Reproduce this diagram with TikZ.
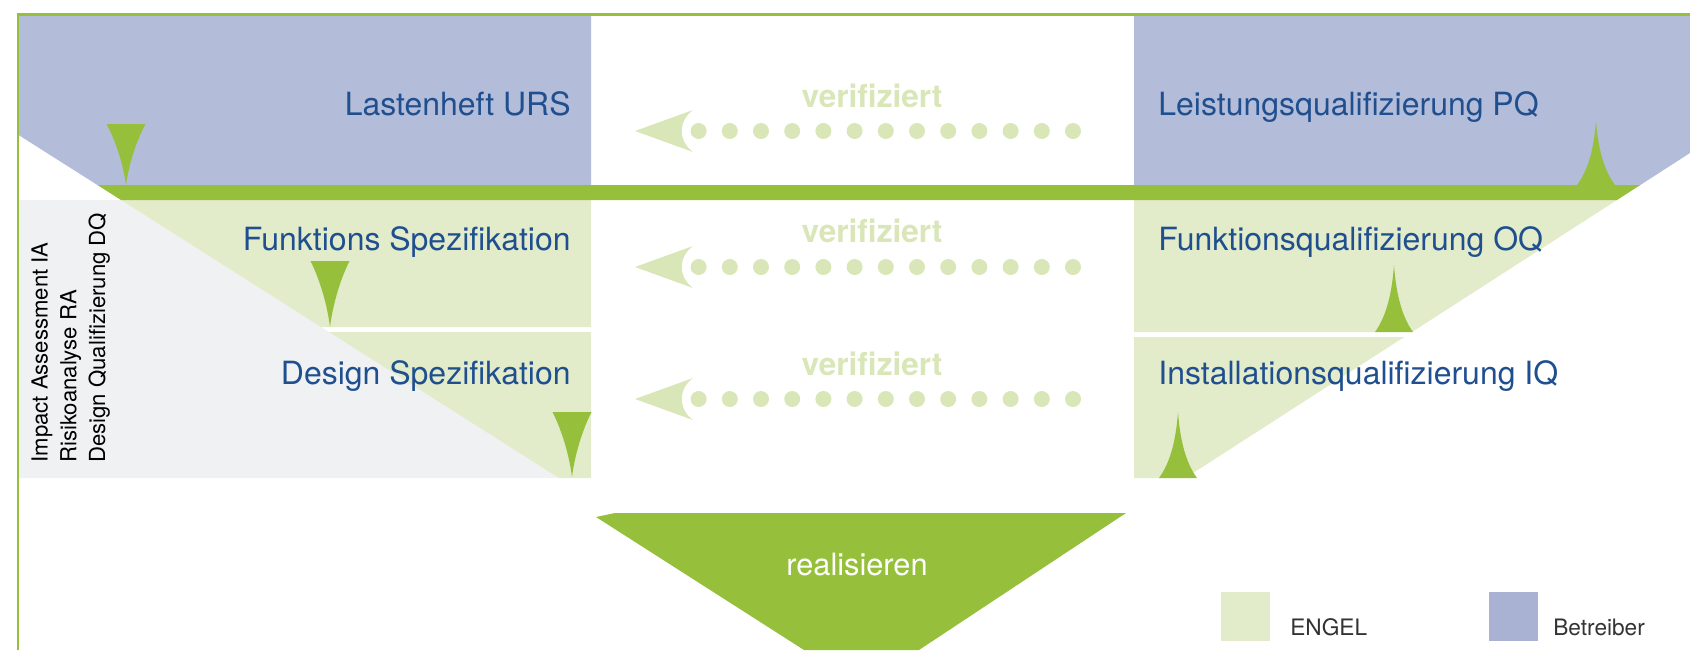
\documentclass[tikz,border=0pt]{standalone}
\usepackage{fontspec}
\setmainfont{TeX Gyre Heros}
\usepackage{tikz}
\usetikzlibrary{calc}
\definecolor{vgreen}{HTML}{96C03B}
\definecolor{userblue}{HTML}{B3BCD8}
\definecolor{legblue}{HTML}{A9B2D3}
\definecolor{engelgreen}{HTML}{E2ECCA}
\definecolor{riskgray}{HTML}{EFF1F3}
\definecolor{textblue}{HTML}{1F4F8F}
\definecolor{dotgreen}{HTML}{D9E6B8}
\definecolor{legtext}{HTML}{333333}
\tikzset{
  phase/.style={text=textblue, inner sep=0pt, font=\fontsize{18.2}{22}\selectfont},
  verif/.style={text=dotgreen, inner sep=0pt, font=\fontsize{18}{22}\selectfont\bfseries},
  legend/.style={text=legtext, inner sep=0pt, font=\fontsize{12.9}{15}\selectfont},
}

\begin{document}
\begin{tikzpicture}[x=0.02cm,y=-0.02cm]
\useasboundingbox (0,0) rectangle (1690,650);
%% fields
\fill[userblue] (17,14) -- (591,14) -- (591,185) -- (97.4,185) -- (17,134) -- cycle;
\fill[userblue] (1134,14) -- (1690,14) -- (1690,153) -- (1640.3,185) -- (1134,185) -- cycle;
\fill[riskgray] (19,200) -- (121,200) -- (558.8,478) -- (19,478) -- cycle;
\fill[engelgreen] (121,200) -- (591,200) -- (591,327) -- (321,327) -- cycle;
\fill[engelgreen] (328.9,332) -- (591,332) -- (591,478) -- (558.8,478) -- cycle;
\fill[engelgreen] (1134,200) -- (1617,200) -- (1412,332) -- (1134,332) -- cycle;
\fill[engelgreen] (1134,337) -- (1404.3,337) -- (1185.3,478) -- (1134,478) -- cycle;
\fill[vgreen] (97.4,185) -- (1640.3,185) -- (1617,200) -- (121,200) -- cycle;
%% markers
\foreach \x/\t/\b in {126/124/185, 330/261/327, 572/412/477}
  \fill[vgreen] ({\x-19.5},\t) -- ({\x+19.5},\t)
    .. controls ({\x+8},{\t+0.35*(\b-\t)}) and ({\x+2},{\t+0.75*(\b-\t)}) .. (\x,\b)
    .. controls ({\x-2},{\t+0.75*(\b-\t)}) and ({\x-8},{\t+0.35*(\b-\t)}) .. ({\x-19.5},\t) -- cycle;
\foreach \x/\t/\b in {1596/121/185, 1394/265/332, 1178/412/478}
  \fill[vgreen] ({\x-19},\b) -- ({\x+19},\b)
    .. controls ({\x+7},{\b-0.25*(\b-\t)}) and ({\x+2},{\b-0.6*(\b-\t)}) .. (\x,\t)
    .. controls ({\x-2},{\b-0.6*(\b-\t)}) and ({\x-7},{\b-0.25*(\b-\t)}) .. ({\x-19},\b) -- cycle;
%% texts
\node[phase, anchor=base east] (urs) at (571,115) {Lastenheft URS};
\node[phase, anchor=base east] (fs) at (571,250) {Funktions Spezifikation};
\node[phase, anchor=base east] (ds) at (571,384) {Design Spezifikation};
\node[phase, anchor=base west] (pq) at (1158,115) {Leistungsqualifizierung PQ};
\node[phase, anchor=base west] (oq) at (1158,250) {Funktionsqualifizierung OQ};
\node[phase, anchor=base west] (iq) at (1158,384) {Installationsqualifizierung IQ};
\node[rotate=90, anchor=base west, align=left, inner sep=0pt, text=black,
  font=\fontsize{12.6}{16.3}\selectfont] (risk) at (105,463)
  {Impact Assessment IA\\Risikoanalyse RA\\Design Qualifizierung DQ};
%% verifiziert
\foreach \y/\n in {131/1, 267/2, 399/3} {
  \coordinate (from\n) at (1073,\y);
  \coordinate (to\n) at (635,\y);
  \foreach \i in {0,...,12}
    \fill[dotgreen] ($(from\n)+(-31.2*\i,0)$) circle (8);
  \fill[dotgreen] (to\n) -- ($(to\n)+(58,-21)$)
    .. controls ($(to\n)+(43,-10)$) and ($(to\n)+(43,10)$) .. ($(to\n)+(58,21)$) -- cycle;
}
\node[verif, anchor=base] (ver1) at (872,107) {verifiziert};
\node[verif, anchor=base] (ver2) at (872,242) {verifiziert};
\node[verif, anchor=base] (ver3) at (872,375) {verifiziert};
%% realisieren
\fill[vgreen] (596,517) -- (615,513) -- (1126,513) -- (919,650) -- (804,650) -- cycle;
\node[anchor=base, inner sep=0pt, text=white, font=\fontsize{17.5}{21}\selectfont] (real) at (857,575) {realisieren};
%% legend
\fill[engelgreen] (1221,592) rectangle (1270,641);
\node[legend, anchor=base west] (engel) at (1290,635) {ENGEL};
\fill[legblue] (1489,592) rectangle (1538,641);
\node[legend, anchor=base west] (betr) at (1553,635) {Betreiber};
%% frame
\draw[vgreen, line width=1.4pt] (18,650) -- (18,14.5) -- (1690,14.5);
\end{tikzpicture}
\end{document}
